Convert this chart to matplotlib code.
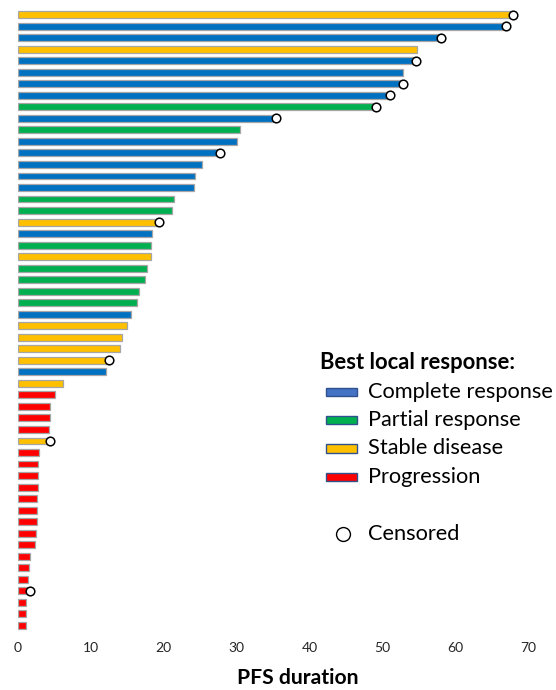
import matplotlib
matplotlib.use("Agg")
import matplotlib.pyplot as plt
from matplotlib.patches import Rectangle
from matplotlib.lines import Line2D

plt.rcParams['font.family'] = ['Lato', 'DejaVu Sans']

# PFS duration per patient (top to bottom), best local response and censoring flag
pfs = [67.9, 67.0, 58.1, 54.7, 54.6, 52.8, 52.9, 51.1, 49.1, 35.4,
       30.5, 30.0, 27.7, 25.2, 24.3, 24.2, 21.4, 21.2, 19.3, 18.4,
       18.3, 18.3, 17.7, 17.4, 16.6, 16.3, 15.5, 15.0, 14.3, 14.0,
       12.5, 12.1, 6.2, 5.1, 4.4, 4.35, 4.2, 4.4, 2.9, 2.7,
       2.7, 2.7, 2.65, 2.65, 2.55, 2.5, 2.3, 1.6, 1.5, 1.4,
       1.6, 1.1, 1.1, 1.1]
response = ['SD', 'CR', 'CR', 'SD', 'CR', 'CR', 'CR', 'CR', 'PR', 'CR',
            'PR', 'CR', 'CR', 'CR', 'CR', 'CR', 'PR', 'PR', 'SD', 'CR',
            'PR', 'SD', 'PR', 'PR', 'PR', 'PR', 'CR', 'SD', 'SD', 'SD',
            'SD', 'CR', 'SD', 'PD', 'PD', 'PD', 'PD', 'SD', 'PD', 'PD',
            'PD', 'PD', 'PD', 'PD', 'PD', 'PD', 'PD', 'PD', 'PD', 'PD',
            'PD', 'PD', 'PD', 'PD']
censored = [1, 1, 1, 0, 1, 0, 1, 1, 1, 1,
            0, 0, 1, 0, 0, 0, 0, 0, 1, 0,
            0, 0, 0, 0, 0, 0, 0, 0, 0, 0,
            1, 0, 0, 0, 0, 0, 0, 1, 0, 0,
            0, 0, 0, 0, 0, 0, 0, 0, 0, 0,
            1, 0, 0, 0]

categories = ['CR', 'PR', 'SD', 'PD']
category_labels = ['Complete response', 'Partial response', 'Stable disease', 'Progression']
bar_colors = {'CR': '#0070C0', 'PR': '#00B050', 'SD': '#FFC000', 'PD': '#FF0000'}
legend_colors = {'CR': '#4472C4', 'PR': '#00B050', 'SD': '#FFC000', 'PD': '#FF0000'}
x_ticks = [0, 10, 20, 30, 40, 50, 60, 70]

W, H = 556, 690
fig = plt.figure(figsize=(W / 100, H / 100), dpi=100)

ax_left, ax_right = 18, 528
ax_top, ax_bottom = 0, 640
ax = fig.add_axes([ax_left / W, (H - ax_bottom) / H,
                   (ax_right - ax_left) / W, (ax_bottom - ax_top) / H])

n = len(pfs)
ypos = list(range(n))
ax.barh(ypos, pfs, height=0.6, left=0,
        color=[bar_colors[r] for r in response],
        edgecolor='#A6A6A6', linewidth=0.9, zorder=2)

cx = [p for p, c in zip(pfs, censored) if c]
cy = [y for y, c in zip(ypos, censored) if c]
ax.plot(cx, cy, linestyle='none', marker='o', markersize=6.2,
        markerfacecolor='white', markeredgecolor='black',
        markeredgewidth=1.1, zorder=3, clip_on=False)

spacing = (625.3 - 14.7) / (n - 1)
y_top = -14.7 / spacing
y_bottom = (n - 1) + (ax_bottom - 625.3) / spacing
ax.set_ylim(y_bottom, y_top)
ax.set_xlim(0, 70)

ax.set_yticks([])
ax.set_xticks(x_ticks)
ax.set_xticklabels([str(t) for t in x_ticks])
ax.tick_params(axis='x', length=0, pad=1.5, labelsize=10, labelcolor='#262626')
for s in ax.spines.values():
    s.set_visible(False)

fig.text(297.5 / W, 1 - 678 / H, 'PFS duration', ha='center', va='center',
         fontsize=15.2, fontweight='bold', color='black')

# Legend
fig.text(320.5 / W, 1 - 362 / H, 'Best local response:', ha='left', va='center',
         fontsize=15.8, fontweight='bold', color='black')
item_y = [392, 420, 448.5, 477]
for cat, lab, yy in zip(categories, category_labels, item_y):
    fig.add_artist(Rectangle((326 / W, 1 - (yy + 4.2) / H), 31 / W, 8.4 / H,
                             transform=fig.transFigure,
                             facecolor=legend_colors[cat], edgecolor='#2F528F',
                             linewidth=1.0))
    fig.text(368 / W, 1 - yy / H, lab, ha='left', va='center',
             fontsize=15.7, color='black')

fig.add_artist(Line2D([343 / W], [1 - 533.5 / H], transform=fig.transFigure,
                      marker='o', markersize=10, markerfacecolor='white',
                      markeredgecolor='black', markeredgewidth=1.0,
                      linestyle='none'))
fig.text(368 / W, 1 - 533.5 / H, 'Censored', ha='left', va='center',
         fontsize=15.7, color='black')

fig.savefig('out.png', dpi=100)
